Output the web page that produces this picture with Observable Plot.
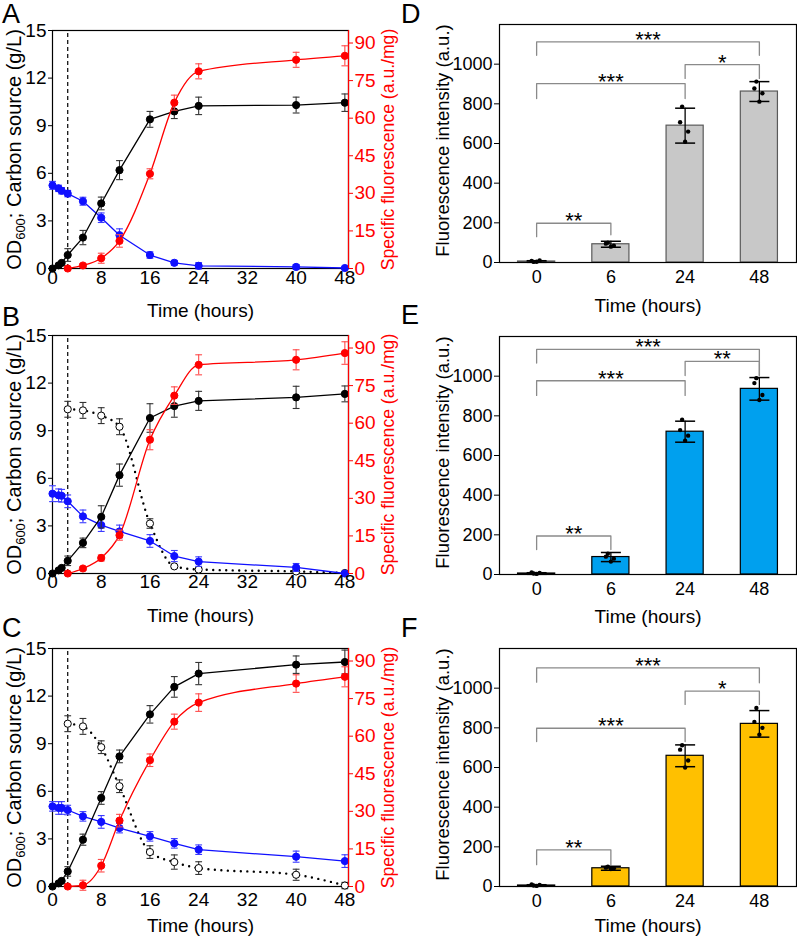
<!DOCTYPE html>
<html><head><meta charset="utf-8">
<script src="https://cdn.jsdelivr.net/npm/d3@7"></script>
<script src="https://cdn.jsdelivr.net/npm/@observablehq/plot@0.6"></script>
<style>
body{margin:0;background:#fff;}
#fig{position:relative;width:797px;height:937px;overflow:hidden;font-family:"Liberation Sans",Arial,sans-serif;background:#fff;}
#fig svg{position:absolute;}
.letter{position:absolute;font-size:27px;line-height:27px;color:#000;}
</style>
</head><body><div id="fig"></div>
<script>
// ---------- data: time courses (panels A-C) ----------
const times = [0, 1, 1.5, 2.5, 5, 8, 11, 16, 20, 24, 40, 48];
const inducedTimes = [2.5, 5, 8, 11, 16, 20, 24, 40, 48];
const inductionTime = 2.5;
const xTicks = [0, 8, 16, 24, 32, 40, 48];
const leftTicks = [0, 3, 6, 9, 12, 15];
const rightTicks = [0, 15, 30, 45, 60, 75, 90];

const odA = [0, 0.2, 0.35, 0.85, 1.95, 4.1, 6.2, 9.4, 9.9, 10.25, 10.3, 10.45];
const odSdA = [0, 0.05, 0.05, 0.4, 0.45, 0.4, 0.6, 0.5, 0.45, 0.55, 0.5, 0.55];
const carbonA = [5.24, 5.05, 4.9, 4.72, 4.24, 3.2, 2.1, 0.85, 0.36, 0.17, 0.1, 0.03];
const carbonSdA = [0.25, 0.2, 0.2, 0.2, 0.25, 0.3, 0.4, 0.2, 0.15, 0.2, 0.15, 0.05];
const fluorA = [0, 1.2, 4.1, 11, 37.8, 66.2, 78.7, 83.3, 84.9];
const fluorSdA = [0.3, 0.8, 2, 2.5, 2, 3, 3, 3, 4];

const odB = [0, 0.2, 0.35, 0.8, 1.93, 3.57, 6.2, 9.8, 10.55, 10.88, 11.1, 11.32];
const odSdB = [0, 0.05, 0.05, 0.3, 0.3, 0.7, 0.7, 0.9, 0.7, 0.6, 0.7, 0.5];
const carbonB = [5.03, 4.93, 4.9, 4.55, 3.6, 3.05, 2.65, 2.05, 1.1, 0.75, 0.38, 0.0];
const carbonSdB = [0.5, 0.4, 0.4, 0.4, 0.4, 0.4, 0.4, 0.4, 0.35, 0.3, 0.25, 0.05];
const carbon2B = [10.35, 10.28, 9.95, 9.25, 3.15, 0.45, 0.25, 0.13, 0.03];
const carbon2SdB = [0.5, 0.5, 0.5, 0.5, 0.3, 0.1, 0.1, 0.1, 0.05];
const fluorB = [0, 2, 6.2, 15.3, 53.4, 71, 83.3, 85.3, 88];
const fluorSdB = [0.3, 0.8, 1.2, 2, 4, 3.5, 4, 4, 4.5];

const odC = [0, 0.2, 0.35, 0.95, 2.95, 5.58, 8.2, 10.85, 12.58, 13.42, 13.98, 14.15];
const odSdC = [0, 0.05, 0.05, 0.3, 0.35, 0.4, 0.4, 0.55, 0.65, 0.7, 0.55, 0.75];
const carbonC = [5.05, 4.95, 4.95, 4.82, 4.42, 4.07, 3.68, 3.16, 2.72, 2.32, 1.88, 1.6];
const carbonSdC = [0.3, 0.4, 0.4, 0.3, 0.3, 0.4, 0.3, 0.3, 0.3, 0.3, 0.35, 0.4];
const carbon2C = [10.26, 10.09, 8.78, 6.32, 2.17, 1.54, 1.16, 0.74, 0.06];
const carbon2SdC = [0.5, 0.5, 0.4, 0.4, 0.4, 0.45, 0.4, 0.35, 0.2];
const fluorC = [0, 0.5, 8.3, 26.3, 50.4, 65.8, 73.4, 81, 83.7];
const fluorSdC = [0.3, 2, 2.5, 2.5, 2.5, 3, 3.5, 3.5, 4];

// ---------- data: bar charts (panels D-F) ----------
const barTimes = ["0", "6", "24", "48"];
const barTicks = [0, 200, 400, 600, 800, 1000];

const meanD = [5, 92, 690, 862];
const sdD = [4, 15, 88, 50];
const repD = [[3, 8, 10, 4], [100, 95, 85, 80], [786, 707, 660, 609], [912, 877, 853, 811]];
const bracketD = [[0, 3, 1112, 1045, 1045, "***"], [2, 3, 998, 928, 928, "*"], [0, 2, 902, 827, 827, "***"], [0, 1, 198, 130, 140, "**"]];

const meanE = [5, 88, 720, 936];
const sdE = [4, 23, 53, 57];
const repE = [[5, 10, 8, 3], [105, 90, 80, 65], [780, 728, 700, 675], [990, 965, 905, 880]];
const bracketE = [[0, 3, 1135, 1066, 1003, "***"], [2, 3, 1075, 1003, 1003, "**"], [0, 2, 977, 903, 903, "***"], [0, 1, 194, 126, 126, "**"]];

const meanF = [5, 92, 659, 820];
const sdF = [4, 10, 55, 67];
const repF = [[5, 10, 8, 3], [100, 95, 92, 88], [712, 690, 635, 600], [900, 830, 800, 765]];
const bracketF = [[0, 3, 1102, 1030, 1027, "***"], [2, 3, 985, 918, 918, "*"], [0, 2, 798, 731, 731, "***"], [0, 1, 185, 110, 110, "**"]];

const odTitle = "OD600; Carbon source (g/L)";

// ---------- drawing ----------
const fig = document.getElementById("fig");
const FONT = "Liberation Sans, Arial, sans-serif";
const cap = {draw(ctx, size) { const w = Math.sqrt(size / Math.PI); ctx.moveTo(-w, 0); ctx.lineTo(w, 0); }};
const rows = (xs, ys, sds) => xs.map((t, i) => ({t, v: ys[i], sd: sds[i]}));

function place(svg, left, top) {
  svg.style.left = left + "px"; svg.style.top = top + "px";
  fig.appendChild(svg);
}
function letter(txt, left, top) {
  const d = document.createElement("div"); d.className = "letter"; d.textContent = txt;
  d.style.left = left + "px"; d.style.top = top + "px"; fig.appendChild(d);
}
// turn "OD600" into OD with a subscript 600 inside the SVG text
function subscriptOD(svg) {
  d3.select(svg).selectAll("text").filter(function () { return this.textContent === odTitle; })
    .each(function () {
      const t = d3.select(this); t.text(null);
      t.append("tspan").text("OD");
      t.append("tspan").attr("font-size", "13px").attr("dy", "4").text("600");
      t.append("tspan").attr("dy", "-4").text("; Carbon source (g/L)");
    });
}

function seriesMarks(data, color, errColor, opts = {}) {
  return [
    Plot.line(data, {x: "t", y: "v", stroke: color, strokeWidth: opts.sw ?? 1.3, curve: opts.curve ?? "linear",
      strokeDasharray: opts.dash, strokeLinecap: opts.cap}),
    Plot.ruleX(data, {x: "t", y1: d => d.v - d.sd, y2: d => d.v + d.sd, stroke: errColor, strokeWidth: 1.1}),
    Plot.dot(data, {x: "t", y: d => d.v + d.sd, symbol: cap, r: 3.4, stroke: errColor, fill: "none", strokeWidth: 1.1}),
    Plot.dot(data, {x: "t", y: d => d.v - d.sd, symbol: cap, r: 3.4, stroke: errColor, fill: "none", strokeWidth: 1.1}),
    Plot.dot(data, {x: "t", y: "v", r: 3.6, fill: opts.fill ?? color, stroke: color, strokeWidth: 1})
  ];
}

function linePanel(top, od, odSd, carbon, carbonSd, carbon2, carbon2Sd, fluor, fluorSd, tickPad, titleDy) {
  const xMax = 48.6;
  const common = {
    width: 400, height: 316, marginLeft: 52, marginRight: 52, marginTop: 30, marginBottom: 48,
    x: {domain: [0, xMax]},
    style: {fontFamily: FONT, fontSize: "19px", background: "transparent", overflow: "visible", color: "black"}
  };
  const left = Plot.plot({
    ...common,
    y: {domain: [0, 15]},
    marks: [
      Plot.frame({stroke: "black", strokeWidth: 1.2}),
      Plot.ruleX([inductionTime], {y1: 0, y2: 15, stroke: "black", strokeDasharray: "4,3", strokeWidth: 1.2}),
      ...(carbon2 ? seriesMarks(rows(inducedTimes, carbon2, carbon2Sd), "black", "#333",
          {fill: "white", curve: "monotone-x", sw: 2.4, dash: "0,6.5", cap: "round"}) : []),
      ...seriesMarks(rows(times, carbon, carbonSd), "#1010ff", "#3b3bff"),
      ...seriesMarks(rows(times, od, odSd), "black", "#333"),
      Plot.axisX({ticks: xTicks, tickSize: 0, tickPadding: tickPad, label: null}),
      Plot.axisY({ticks: leftTicks, tickSize: 4, tickPadding: 2, label: null}),
      Plot.text(["Time (hours)"], {frameAnchor: "bottom", dy: titleDy, textAnchor: "middle", lineAnchor: "middle", fontSize: 19}),
      Plot.text([odTitle], {frameAnchor: "left", rotate: -90, dx: -38, textAnchor: "middle", lineAnchor: "middle", fontSize: 20})
    ]
  });
  subscriptOD(left);
  const right = Plot.plot({
    ...common,
    x: {domain: [0, xMax], axis: null},
    y: {domain: [0, 95]},
    marks: [
      Plot.ruleX([xMax], {stroke: "red", strokeWidth: 1.2}),
      ...seriesMarks(rows(inducedTimes, fluor, fluorSd), "#ff0000", "#ff4a4a", {curve: "monotone-x"}),
      Plot.axisY({anchor: "right", ticks: rightTicks, tickSize: 4, tickPadding: 2, color: "red", label: null}),
      Plot.text(["Specific fluorescence (a.u./mg)"], {frameAnchor: "right", rotate: -90, dx: 40, textAnchor: "middle",
        lineAnchor: "middle", fill: "red", fontSize: 17.6})
    ]
  });
  place(left, 0, top);
  place(right, 0, top);
}

function barPanel(top, means, sds, reps, brackets, fill, stroke, titleDy) {
  const idx = d3.range(barTimes.length);
  const jitter = [-3, -5, 3, 0];
  const repMarks = jitter.map((dx, k) =>
    Plot.dot(idx, {x: i => i, y: i => reps[i][k], r: 2.2, fill: "black", dx}));
  const bl = brackets.flatMap((b, j) => [
    {j, x: b[0], y: b[3]}, {j, x: b[0], y: b[2]}, {j, x: b[1], y: b[2]}, {j, x: b[1], y: b[4]}
  ]);
  const svg = Plot.plot({
    width: 397, height: 310, marginLeft: 99, marginRight: 1, marginTop: 24, marginBottom: 48,
    x: {type: "linear", domain: [-0.5, 3.5]},
    y: {domain: [0, 1200]},
    style: {fontFamily: FONT, fontSize: "18px", background: "transparent", overflow: "visible", color: "black"},
    marks: [
      Plot.rectY(idx, {x1: i => i - 0.25, x2: i => i + 0.25, y1: 0, y2: i => means[i], fill, stroke, strokeWidth: 1.2}),
      Plot.ruleX(idx, {x: i => i, y1: i => means[i] - sds[i], y2: i => means[i] + sds[i], stroke: "black", strokeWidth: 1.3}),
      Plot.dot(idx, {x: i => i, y: i => means[i] + sds[i], symbol: cap, r: 10, stroke: "black", strokeWidth: 1.5, fill: "none"}),
      Plot.dot(idx, {x: i => i, y: i => means[i] - sds[i], symbol: cap, r: 10, stroke: "black", strokeWidth: 1.5, fill: "none"}),
      ...repMarks,
      Plot.line(bl, {x: "x", y: "y", z: "j", stroke: "#8a8a8a", strokeWidth: 1.3}),
      Plot.text(brackets, {x: b => (b[0] + b[1]) / 2, y: b => b[2], text: b => b[5], fontSize: 22,
        lineAnchor: "bottom", dy: 5, fill: "black"}),
      Plot.frame({stroke: "black", strokeWidth: 1.2}),
      Plot.axisX({ticks: idx, tickFormat: i => barTimes[i], tickSize: 0, tickPadding: 8, label: null}),
      Plot.axisY({ticks: barTicks, tickFormat: d => String(d), tickSize: 5, tickPadding: 2, label: null}),
      Plot.text(["Time (hours)"], {frameAnchor: "bottom", dy: titleDy, textAnchor: "middle", lineAnchor: "middle", fontSize: 19}),
      Plot.text(["Fluorescence intensity (a.u.)"], {frameAnchor: "left", rotate: -90, dx: -56, dy: -3,
        textAnchor: "middle", lineAnchor: "middle", fontSize: 18.5})
    ]
  });
  place(svg, 400, top);
}

linePanel(0, odA, odSdA, carbonA, carbonSdA, null, null, fluorA, fluorSdA, 2, 42);
linePanel(305, odB, odSdB, carbonB, carbonSdB, carbon2B, carbon2SdB, fluorB, fluorSdB, 1, 42);
linePanel(618, odC, odSdC, carbonC, carbonSdC, carbon2C, carbon2SdC, fluorC, fluorSdC, 6, 39);

barPanel(0, meanD, sdD, repD, bracketD, "#c8c8c8", "#5a5a5a", 43);
barPanel(312, meanE, sdE, repE, bracketE, "#00a0ee", "black", 42);
barPanel(624, meanF, sdF, repF, bracketF, "#ffc000", "black", 39);

letter("A", 2, 1); letter("B", 2, 304); letter("C", 2, 615);
letter("D", 401, 1); letter("E", 401, 302); letter("F", 401, 615);
</script>
</body></html>
